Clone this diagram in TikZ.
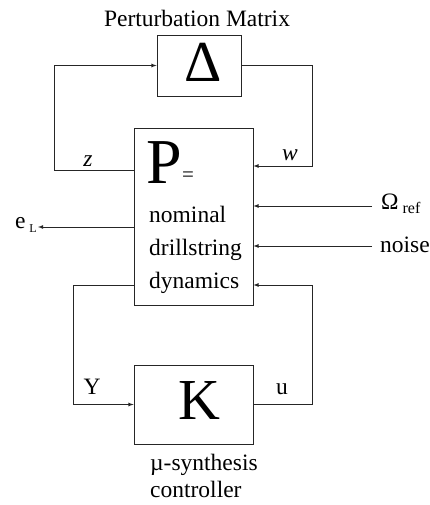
\documentclass[tikz,border=0pt]{standalone}
\usepackage{fontspec}
\setmainfont{Liberation Serif}
\usetikzlibrary{positioning}
\begin{document}
\begin{tikzpicture}[x=1pt,y=-1pt]

    \tikzset{
      block/.style={
        draw=black!85,
        line width=0.8pt,
        inner sep=0pt,
      },
      signal/.style={
        draw=black!85,
        line width=0.8pt,
        >=latex,
        ->,
      },
      lbl/.style={
        inner sep=0pt,
        font=\fontsize{23.5}{26}\selectfont,
      },
    }

	\useasboundingbox (0,0) rectangle (429,505);

	% blocks
	\node[block,minimum width=84pt,minimum height=61pt] (delta) at (199,65.5) {};
	\node[block,minimum width=119pt,minimum height=177pt] (P) at (193.5,216.5) {};
	\node[block,minimum width=119pt,minimum height=79pt] (K) at (193.5,404.5) {};

	% texts
	\node[lbl] (title) at (197,18) {Perturbation Matrix};
	\node[inner sep=0pt,font=\fontsize{58}{58}\selectfont] (deltasym) at (203,62) {Δ};
	\node[inner sep=0pt,anchor=base west,font=\fontsize{64}{64}\selectfont] (psym) at (146,183) {P};
	\node[inner sep=0pt,anchor=base west,font=\fontsize{21}{21}\selectfont] (peq) at (182,181) {=};
	\node[lbl,anchor=base west] (nominal) at (149,222) {nominal};
	\node[lbl,anchor=base west] (drill) at (149,255) {drillstring};
	\node[lbl,anchor=base west] (dyn) at (149,288) {dynamics};
	\node[inner sep=0pt,font=\fontsize{58}{58}\selectfont] (ksym) at (199,401) {K};
	\node[lbl,anchor=base west] (musyn) at (150,470) {µ-synthesis};
	\node[lbl,anchor=base west] (ctrl) at (150,497) {controller};

	\node[lbl] (zlbl) at (88,161) {\itshape z};
	\node[lbl] (wlbl) at (290,155) {\itshape w};
	\node[lbl] (ylbl) at (92,387) {Y};
	\node[lbl] (ulbl) at (282,389) {u};
	\node[lbl,anchor=west] (omegalbl) at (381,204) {Ω\,\raisebox{-0.35ex}{\fontsize{16}{16}\selectfont ref}};
	\node[lbl,anchor=west] (noiselbl) at (380,245) {noise};
	\node[lbl,anchor=east] (eLlbl) at (37,225) {e\,\raisebox{-0.4ex}{\fontsize{12}{12}\selectfont L}};

	% free ends
	\coordinate (omegain) at (372,206);
	\coordinate (noisein) at (372,246);
	\coordinate (eLout) at (38,227);

	% connections
	\draw[signal] (P.west |- 0,170) -| ([xshift=-102pt]delta.west) -- (delta.west);
	\draw[signal] (delta.east) -- ++(71,0) |- (P.east |- 0,166);
	\draw[signal] (omegain) -- (P.east |- omegain);
	\draw[signal] (noisein) -- (P.east |- noisein);
	\draw[signal] (P.west |- eLout) -- (eLout);
	\draw[signal] (P.west |- 0,285) -| ([xshift=-60pt]K.west) -- (K.west);
	\draw[signal] (K.east) -- ++(59,0) |- (P.east |- 0,285);

\end{tikzpicture}
\end{document}
